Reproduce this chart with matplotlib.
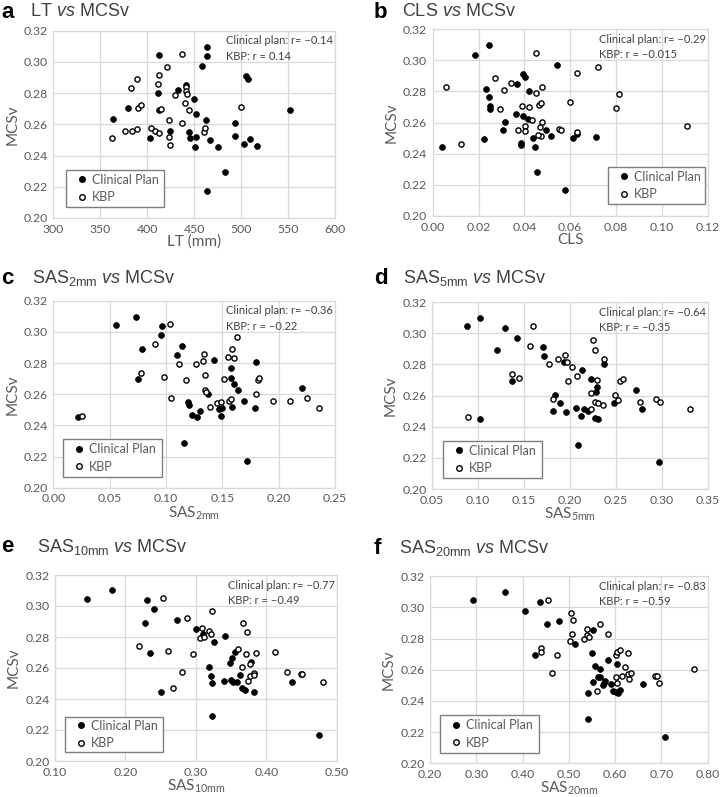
import matplotlib
matplotlib.use("Agg")
import matplotlib.pyplot as plt
from matplotlib.lines import Line2D
from matplotlib.patches import Rectangle

plt.rcParams['font.family'] = ['Lato', 'DejaVu Sans']
plt.rcParams['mathtext.fontset'] = 'custom'
plt.rcParams['mathtext.rm'] = 'Liberation Sans'
plt.rcParams['mathtext.it'] = 'Liberation Sans:italic'
plt.rcParams['mathtext.default'] = 'regular'

# ---------------- data ----------------
# a: LT vs MCSv
lt_clin_x = [364, 379.5, 403, 413, 411, 413, 424, 433, 441, 449.5, 452, 444, 446, 452, 451, 458, 464, 464,
             463, 467, 475, 464, 483, 494, 494, 503, 509, 505, 507, 517, 552]
lt_clin_y = [0.2637, 0.2704, 0.2512, 0.3044, 0.2804, 0.2690, 0.2559, 0.2819, 0.2849, 0.2763, 0.2665, 0.2550,
             0.2512, 0.2518, 0.2452, 0.2976, 0.3098, 0.3036, 0.2625, 0.2497, 0.2452, 0.2173, 0.2293, 0.2606,
             0.2525, 0.2472, 0.2503, 0.2912, 0.2893, 0.2459, 0.2691]
lt_kbp_x = [363, 376, 384, 389.5, 383, 389.5, 390.5, 393, 404, 408.6, 413, 413, 412, 415, 420.7, 423, 423, 424,
            429.6, 437, 437, 440.6, 441.6, 441.6, 442, 445, 461, 461.5, 499.5]
lt_kbp_y = [0.2512, 0.2557, 0.2557, 0.2572, 0.2831, 0.2891, 0.2704, 0.2725, 0.2578, 0.2560, 0.2546, 0.2917,
            0.2859, 0.2697, 0.2966, 0.2625, 0.2518, 0.2465, 0.2785, 0.3051, 0.2606, 0.2738, 0.2838, 0.2814,
            0.2795, 0.2691, 0.2550, 0.2578, 0.2712]

# b: CLS vs MCSv
cls_clin_x = [0.0042, 0.0185, 0.0244, 0.0234, 0.0244, 0.0252, 0.0252, 0.0225, 0.0307, 0.0314, 0.0366, 0.0364,
              0.0394, 0.0404, 0.0394, 0.0414, 0.0422, 0.0387, 0.0387, 0.0436, 0.0446, 0.0455, 0.0495, 0.0516,
              0.0543, 0.0576, 0.0614, 0.0631, 0.0713]
cls_clin_y = [0.2443, 0.3031, 0.3097, 0.2817, 0.2763, 0.2706, 0.2689, 0.2496, 0.2549, 0.2603, 0.2849, 0.2656,
              0.2911, 0.2890, 0.2639, 0.2624, 0.2804, 0.2470, 0.2455, 0.2502, 0.2443, 0.2282, 0.2549, 0.2515,
              0.2971, 0.2169, 0.2502, 0.2524, 0.2509]
cls_kbp_x = [0.0059, 0.0123, 0.0270, 0.0293, 0.0310, 0.0340, 0.0373, 0.0390, 0.0404, 0.0404, 0.0422, 0.0432,
             0.0453, 0.0453, 0.0463, 0.0472, 0.0467, 0.0472, 0.0462, 0.0479, 0.0479, 0.0551, 0.0561, 0.0601,
             0.0632, 0.0632, 0.0723, 0.0802, 0.0812, 0.1111]
cls_kbp_y = [0.2830, 0.2462, 0.2885, 0.2689, 0.2811, 0.2851, 0.2554, 0.2704, 0.2577, 0.2545, 0.2697, 0.2616,
             0.3046, 0.2789, 0.2710, 0.2723, 0.2569, 0.2511, 0.2517, 0.2603, 0.2830, 0.2556, 0.2552, 0.2729,
             0.2918, 0.2537, 0.2956, 0.2691, 0.2783, 0.2575]

# c: SAS2mm vs MCSv
sas2_clin_x = [0.0219, 0.0556, 0.0731, 0.0968, 0.0953, 0.0787, 0.0752, 0.1145, 0.1101, 0.1426, 0.1574, 0.1574,
               0.1604, 0.1639, 0.1370, 0.1192, 0.1204, 0.1234, 0.1278, 0.1305, 0.1471, 0.1494, 0.1488, 0.1586,
               0.1696, 0.1787, 0.1796, 0.2210, 0.1157, 0.1716]
sas2_clin_y = [0.2451, 0.3044, 0.3097, 0.3037, 0.2977, 0.2892, 0.2697, 0.2911, 0.2851, 0.2819, 0.2766, 0.2706,
               0.2665, 0.2624, 0.2603, 0.2549, 0.2528, 0.2468, 0.2451, 0.2494, 0.2505, 0.2509, 0.2457, 0.2517,
               0.2556, 0.2509, 0.2804, 0.2637, 0.2288, 0.2169]
sas2_kbp_x = [0.0254, 0.0905, 0.0781, 0.0985, 0.1039, 0.1113, 0.1047, 0.1175, 0.1266, 0.1329, 0.1335, 0.1343,
              0.1343, 0.1358, 0.1388, 0.1453, 0.1488, 0.1518, 0.1554, 0.1556, 0.1574, 0.1583, 0.1604, 0.1627,
              0.1814, 0.1826, 0.1802, 0.1953, 0.2101, 0.2249, 0.2358]
sas2_kbp_y = [0.2462, 0.2924, 0.2738, 0.2710, 0.3050, 0.2796, 0.2577, 0.2691, 0.2791, 0.2815, 0.2855, 0.2723,
              0.2624, 0.2616, 0.2517, 0.2545, 0.2549, 0.2697, 0.2838, 0.2556, 0.2571, 0.2890, 0.2830, 0.2965,
              0.2691, 0.2704, 0.2603, 0.2556, 0.2556, 0.2577, 0.2509]

# d: SAS5mm vs MCSv
sas5_clin_x = [0.0880, 0.1027, 0.1292, 0.1428, 0.1206, 0.1708, 0.1722, 0.1375, 0.1027, 0.1840, 0.1898, 0.1822,
               0.1955, 0.1934, 0.2134, 0.2235, 0.2296, 0.2285, 0.2070, 0.2159, 0.2199, 0.2124, 0.2278, 0.2306,
               0.2088, 0.2378, 0.2478, 0.2726, 0.2783, 0.2973]
sas5_clin_y = [0.3044, 0.3099, 0.3031, 0.2971, 0.2890, 0.2911, 0.2851, 0.2691, 0.2449, 0.2603, 0.2549, 0.2502,
               0.2496, 0.2815, 0.2763, 0.2704, 0.2656, 0.2622, 0.2519, 0.2513, 0.2498, 0.2466, 0.2453, 0.2446,
               0.2284, 0.2804, 0.2549, 0.2637, 0.2511, 0.2171]
sas5_kbp_x = [0.0891, 0.1375, 0.1450, 0.1564, 0.1597, 0.1772, 0.1822, 0.1876, 0.1944, 0.1970, 0.1977, 0.2023,
              0.2077, 0.2235, 0.2235, 0.2249, 0.2278, 0.2278, 0.2296, 0.2306, 0.2360, 0.2371, 0.2489, 0.2525,
              0.2546, 0.2575, 0.2761, 0.2937, 0.2984, 0.3310]
sas5_kbp_y = [0.2464, 0.2738, 0.2712, 0.2920, 0.3046, 0.2800, 0.2578, 0.2832, 0.2857, 0.2817, 0.2693, 0.2785,
              0.2725, 0.2618, 0.2515, 0.2958, 0.2890, 0.2556, 0.2697, 0.2551, 0.2536, 0.2832, 0.2603, 0.2571,
              0.2691, 0.2704, 0.2556, 0.2578, 0.2558, 0.2511]

# e: SAS10mm vs MCSv
sas10_clin_x = [0.1459, 0.1809, 0.2301, 0.2401, 0.2283, 0.2344, 0.2727, 0.2505, 0.3007, 0.3106, 0.3414, 0.3257,
                0.3182, 0.3210, 0.3229, 0.3229, 0.3395, 0.3485, 0.3508, 0.3494, 0.3532, 0.3556, 0.3579, 0.3627,
                0.3660, 0.3702, 0.3788, 0.3830, 0.4365, 0.4748]
sas10_clin_y = [0.3047, 0.3101, 0.3041, 0.2981, 0.2893, 0.2697, 0.2912, 0.2448, 0.2852, 0.2817, 0.2807, 0.2766,
                0.2604, 0.2551, 0.2503, 0.2288, 0.2516, 0.2630, 0.2665, 0.2520, 0.2512, 0.2703, 0.2510, 0.2555,
                0.2469, 0.2456, 0.2639, 0.2448, 0.2510, 0.2166]
sas10_kbp_x = [0.2193, 0.2533, 0.2609, 0.2671, 0.2798, 0.2874, 0.2959, 0.3059, 0.3082, 0.3115, 0.3186, 0.3215,
               0.3229, 0.3593, 0.3655, 0.3674, 0.3712, 0.3721, 0.3745, 0.3764, 0.3773, 0.3821, 0.3821, 0.3854,
               0.4119, 0.4299, 0.4493, 0.4512, 0.4800]
sas10_kbp_y = [0.2740, 0.3054, 0.2710, 0.2469, 0.2577, 0.2925, 0.2690, 0.2792, 0.2856, 0.2798, 0.2841, 0.2817,
               0.2966, 0.2725, 0.2604, 0.2893, 0.2690, 0.2832, 0.2516, 0.2549, 0.2626, 0.2570, 0.2553, 0.2697,
               0.2703, 0.2577, 0.2559, 0.2559, 0.2510]

# f: SAS20mm vs MCSv
sas20_clin_x = [0.2930, 0.3619, 0.4372, 0.4045, 0.4528, 0.4791, 0.4280, 0.5125, 0.5530, 0.5501, 0.5558, 0.5679,
                0.5629, 0.5686, 0.5523, 0.5771, 0.5786, 0.5750, 0.5849, 0.5920, 0.5949, 0.6020, 0.6041, 0.6070,
                0.6112, 0.5409, 0.5409, 0.6602, 0.7072]
sas20_clin_y = [0.3048, 0.3102, 0.3035, 0.2975, 0.2894, 0.2913, 0.2693, 0.2768, 0.2853, 0.2708, 0.2627, 0.2605,
                0.2554, 0.2554, 0.2519, 0.2515, 0.2528, 0.2504, 0.2664, 0.2506, 0.2462, 0.2460, 0.2637, 0.2451,
                0.2472, 0.2453, 0.2286, 0.2511, 0.2171]
sas20_kbp_x = [0.4543, 0.4408, 0.4408, 0.4749, 0.4636, 0.5050, 0.5100, 0.5079, 0.5029, 0.5336, 0.5400, 0.5400,
               0.5429, 0.5679, 0.5857, 0.5614, 0.6021, 0.6036, 0.6107, 0.6021, 0.6043, 0.6150, 0.6207, 0.6279,
               0.6279, 0.6300, 0.6336, 0.6864, 0.6900, 0.6950, 0.7700]
sas20_kbp_y = [0.3048, 0.2740, 0.2714, 0.2693, 0.2579, 0.2962, 0.2920, 0.2832, 0.2787, 0.2800, 0.2860, 0.2821,
               0.2808, 0.2892, 0.2832, 0.2466, 0.2697, 0.2714, 0.2727, 0.2554, 0.2517, 0.2561, 0.2618, 0.2708,
               0.2571, 0.2539, 0.2582, 0.2561, 0.2561, 0.2513, 0.2607]

panel_letters = ['a', 'b', 'c', 'd', 'e', 'f']
panel_titles = [r'LT $\mathit{vs}$ MCSv', r'CLS $\mathit{vs}$ MCSv',
                r'SAS$_{\mathregular{2mm}}$ $\mathit{vs}$ MCSv', r'SAS$_{\mathregular{5mm}}$ $\mathit{vs}$ MCSv',
                r'SAS$_{\mathregular{10mm}}$ $\mathit{vs}$ MCSv', r'SAS$_{\mathregular{20mm}}$ $\mathit{vs}$ MCSv']
x_labels = ['LT (mm)', 'CLS', r'SAS$_{\mathregular{2mm}}$', r'SAS$_{\mathregular{5mm}}$',
            r'SAS$_{\mathregular{10mm}}$', r'SAS$_{\mathregular{20mm}}$']
r_clinical = ['\u22120.14', '\u22120.29', '\u22120.36', '\u22120.64', '\u22120.77', '\u22120.83']
r_kbp = ['0.14', '\u22120.015', '\u22120.22', '\u22120.35', '\u22120.49', '\u22120.59']
x_ticks = [[300, 350, 400, 450, 500, 550, 600],
           [0.00, 0.02, 0.04, 0.06, 0.08, 0.10, 0.12],
           [0.00, 0.05, 0.10, 0.15, 0.20, 0.25],
           [0.05, 0.10, 0.15, 0.20, 0.25, 0.30, 0.35],
           [0.10, 0.20, 0.30, 0.40, 0.50],
           [0.20, 0.30, 0.40, 0.50, 0.60, 0.70, 0.80]]
x_fmt = ['{:.0f}', '{:.2f}', '{:.2f}', '{:.2f}', '{:.2f}', '{:.2f}']
y_ticks = [0.20, 0.22, 0.24, 0.26, 0.28, 0.30, 0.32]

clin_x = [lt_clin_x, cls_clin_x, sas2_clin_x, sas5_clin_x, sas10_clin_x, sas20_clin_x]
clin_y = [lt_clin_y, cls_clin_y, sas2_clin_y, sas5_clin_y, sas10_clin_y, sas20_clin_y]
kbp_x = [lt_kbp_x, cls_kbp_x, sas2_kbp_x, sas5_kbp_x, sas10_kbp_x, sas20_kbp_x]
kbp_y = [lt_kbp_y, cls_kbp_y, sas2_kbp_y, sas5_kbp_y, sas10_kbp_y, sas20_kbp_y]

# ---------------- layout (pixels) ----------------
W, H = 720, 797
fig = plt.figure(figsize=(W / 100, H / 100), dpi=100)
fig.patch.set_facecolor('white')

ax_boxes = [(53.3, 30.7, 335, 218), (432.7, 29, 707.5, 216),
            (53.3, 300.7, 335, 487.7), (432, 302, 707.5, 489),
            (55, 575, 336.7, 761), (430, 576.3, 707.5, 763.3)]
title_pos = [(1, 30, 12), (374, 402, 12), (1, 32, 278), (374, 403, 278), (1, 37, 547), (374, 399, 548)]
legend_box = [(66, 170, 164, 207), (608, 167, 705, 204), (63, 439, 162, 477),
              (443, 441, 542, 478), (65, 717, 163, 752), (440, 715, 539, 753)]

TXT = '#595959'
GRID = '#d9d9d9'

for i in range(6):
    l, t, r, b = ax_boxes[i]
    ax = fig.add_axes([l / W, 1 - b / H, (r - l) / W, (b - t) / H])
    ax.scatter(clin_x[i], clin_y[i], s=17, c='black', edgecolors='black', linewidths=0.6, zorder=3)
    ax.scatter(kbp_x[i], kbp_y[i], s=14, facecolors='white', edgecolors='black', linewidths=1.0, zorder=3)
    xt = x_ticks[i]
    ax.set_xlim(xt[0], xt[-1])
    ax.set_ylim(0.20, 0.32)
    ax.set_xticks(xt)
    ax.set_xticklabels([x_fmt[i].format(v) for v in xt])
    ax.set_yticks(y_ticks)
    ax.set_yticklabels(['{:.2f}'.format(v) for v in y_ticks])
    ax.grid(True, color=GRID, linewidth=0.9, zorder=0)
    ax.set_axisbelow(True)
    for sp in ax.spines.values():
        sp.set_color(GRID)
        sp.set_linewidth(0.9)
    ax.tick_params(length=0, labelsize=8.8, labelcolor=TXT, pad=4)
    ax.set_xlabel(x_labels[i], fontsize=11, color=TXT, labelpad=0)
    ax.set_ylabel('MCSv', fontsize=11, color=TXT, labelpad=3)
    ax.text(0.993, 0.975, 'Clinical plan: r= ' + r_clinical[i] + '\nKBP: r = ' + r_kbp[i],
            transform=ax.transAxes, ha='right', va='top', multialignment='left',
            fontsize=8, color='#404040', linespacing=1.5)

    # legend: box drawn as rectangle, entries as frameless legend
    bl, bt, br, bb = legend_box[i]
    fig.patches.append(Rectangle((bl / W, 1 - bb / H), (br - bl) / W, (bb - bt) / H,
                                 transform=fig.transFigure, facecolor='white', edgecolor='#7f7f7f',
                                 linewidth=1.0, zorder=5))
    handles = [Line2D([], [], marker='o', linestyle='none', markersize=4, markerfacecolor='black',
                      markeredgecolor='black', label='Clinical Plan'),
               Line2D([], [], marker='o', linestyle='none', markersize=4, markerfacecolor='white',
                      markeredgecolor='black', markeredgewidth=1.0, label='KBP')]
    leg = fig.legend(handles=handles, loc='center left',
                     bbox_to_anchor=((bl + 12) / W, 1 - (bt + bb) / 2 / H),
                     bbox_transform=fig.transFigure, borderaxespad=0, frameon=False,
                     fontsize=9, handlelength=0.6, handletextpad=0.5, borderpad=0,
                     labelspacing=0.45)
    leg.set_zorder(6)
    for txt in leg.get_texts():
        txt.set_color(TXT)

    px, tx, ty = title_pos[i]
    fig.text(px / W, 1 - ty / H, panel_letters[i], fontsize=16, fontweight='bold',
             family='Liberation Sans', va='center', ha='left')
    fig.text(tx / W, 1 - ty / H, panel_titles[i], fontsize=13, family='Liberation Sans',
             color='#404040', va='center', ha='left')

fig.savefig('out.png', dpi=100)
